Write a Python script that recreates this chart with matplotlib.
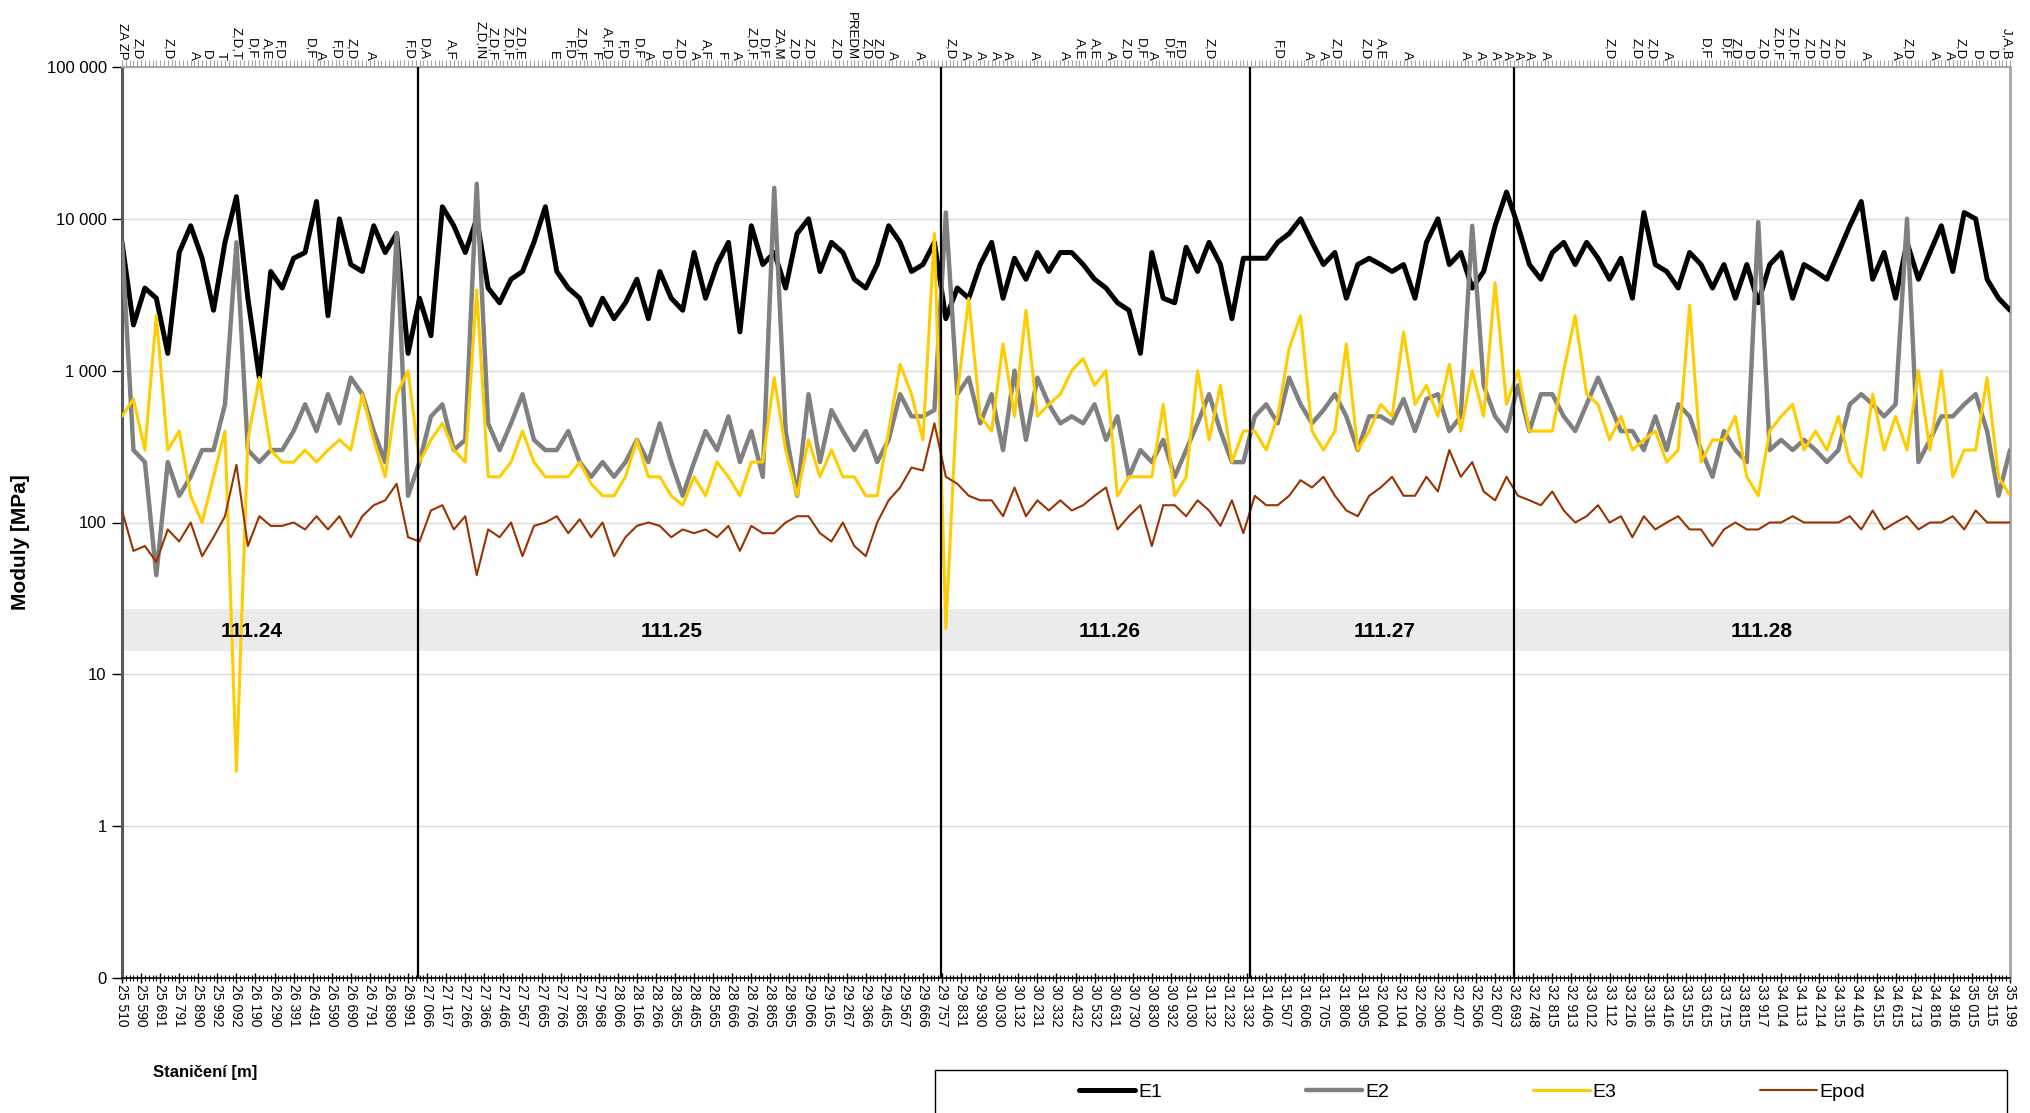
import numpy as np
import matplotlib
matplotlib.use('Agg')
import matplotlib.pyplot as plt
from matplotlib.patches import Rectangle
from matplotlib.ticker import NullLocator

plt.rcParams['font.family'] = ['Liberation Sans', 'DejaVu Sans']

# ---- data ----
n_cat = 496          # number of measured stations (categories)
step = 3             # a reading is given for every 3rd station

stations = ['25 510', '25 590', '25 691', '25 791', '25 890', '25 992', '26 092', '26 190', '26 290', '26 391',
            '26 491', '26 590', '26 690', '26 791', '26 890', '26 991', '27 066', '27 167', '27 266', '27 366',
            '27 466', '27 567', '27 665', '27 766', '27 865', '27 968', '28 066', '28 166', '28 266', '28 365',
            '28 465', '28 565', '28 666', '28 766', '28 865', '28 965', '29 066', '29 165', '29 267', '29 366',
            '29 465', '29 567', '29 666', '29 757', '29 831', '29 930', '30 030', '30 132', '30 231', '30 332',
            '30 432', '30 532', '30 631', '30 730', '30 830', '30 932', '31 030', '31 132', '31 232', '31 332',
            '31 406', '31 507', '31 606', '31 705', '31 806', '31 905', '32 004', '32 104', '32 206', '32 306',
            '32 407', '32 506', '32 607', '32 693', '32 748', '32 815', '32 913', '33 012', '33 112', '33 216',
            '33 316', '33 416', '33 515', '33 615', '33 715', '33 815', '33 917', '34 014', '34 113', '34 214',
            '34 315', '34 416', '34 515', '34 615', '34 713', '34 816', '34 916', '35 015', '35 115', '35 199']

e1 = [7000, 2000, 3500, 3000, 1300, 6000, 9000, 5500, 2500, 7000,
      14000, 3000, 900, 4500, 3500, 5500, 6000, 13000, 2300, 10000,
      5000, 4500, 9000, 6000, 8000, 1300, 3000, 1700, 12000, 9000,
      6000, 10000, 3500, 2800, 4000, 4500, 7000, 12000, 4500, 3500,
      3000, 2000, 3000, 2200, 2800, 4000, 2200, 4500, 3000, 2500,
      6000, 3000, 5000, 7000, 1800, 9000, 5000, 6000, 3500, 8000,
      10000, 4500, 7000, 6000, 4000, 3500, 5000, 9000, 7000, 4500,
      5000, 7000, 2200, 3500, 3000, 5000, 7000, 3000, 5500, 4000,
      6000, 4500, 6000, 6000, 5000, 4000, 3500, 2800, 2500, 1300,
      6000, 3000, 2800, 6500, 4500, 7000, 5000, 2200, 5500, 5500,
      5500, 7000, 8000, 10000, 7000, 5000, 6000, 3000, 5000, 5500,
      5000, 4500, 5000, 3000, 7000, 10000, 5000, 6000, 3500, 4500,
      9000, 15000, 9000, 5000, 4000, 6000, 7000, 5000, 7000, 5500,
      4000, 5500, 3000, 11000, 5000, 4500, 3500, 6000, 5000, 3500,
      5000, 3000, 5000, 2800, 5000, 6000, 3000, 5000, 4500, 4000,
      6000, 9000, 13000, 4000, 6000, 3000, 7000, 4000, 6000, 9000,
      4500, 11000, 10000, 4000, 3000, 2500]

e2 = [7000, 300, 250, 45, 250, 150, 200, 300, 300, 600,
      7000, 300, 250, 300, 300, 400, 600, 400, 700, 450,
      900, 700, 400, 250, 8000, 150, 250, 500, 600, 300,
      350, 17000, 450, 300, 450, 700, 350, 300, 300, 400,
      250, 200, 250, 200, 250, 350, 250, 450, 250, 150,
      250, 400, 300, 500, 250, 400, 200, 16000, 400, 150,
      700, 250, 550, 400, 300, 400, 250, 350, 700, 500,
      500, 550, 11000, 700, 900, 450, 700, 300, 1000, 350,
      900, 600, 450, 500, 450, 600, 350, 500, 200, 300,
      250, 350, 200, 300, 450, 700, 400, 250, 250, 500,
      600, 450, 900, 600, 450, 550, 700, 500, 300, 500,
      500, 450, 650, 400, 650, 700, 400, 500, 9000, 800,
      500, 400, 800, 400, 700, 700, 500, 400, 600, 900,
      600, 400, 400, 300, 500, 300, 600, 500, 300, 200,
      400, 300, 250, 9500, 300, 350, 300, 350, 300, 250,
      300, 600, 700, 600, 500, 600, 10000, 250, 350, 500,
      500, 600, 700, 400, 150, 300]

e3 = [500, 650, 300, 2300, 300, 400, 150, 100, 200, 400,
      2.3, 350, 900, 300, 250, 250, 300, 250, 300, 350,
      300, 700, 350, 200, 700, 1000, 250, 350, 450, 300,
      250, 3400, 200, 200, 250, 400, 250, 200, 200, 200,
      250, 180, 150, 150, 200, 350, 200, 200, 150, 130,
      200, 150, 250, 200, 150, 250, 250, 900, 300, 150,
      350, 200, 300, 200, 200, 150, 150, 400, 1100, 700,
      350, 8000, 20, 700, 3000, 500, 400, 1500, 500, 2500,
      500, 600, 700, 1000, 1200, 800, 1000, 150, 200, 200,
      200, 600, 150, 200, 1000, 350, 800, 250, 400, 400,
      300, 500, 1400, 2300, 400, 300, 400, 1500, 300, 400,
      600, 500, 1800, 600, 800, 500, 1100, 400, 1000, 500,
      3800, 600, 1000, 400, 400, 400, 1000, 2300, 700, 600,
      350, 500, 300, 350, 400, 250, 300, 2700, 250, 350,
      350, 500, 200, 150, 400, 500, 600, 300, 400, 300,
      500, 250, 200, 700, 300, 500, 300, 1000, 300, 1000,
      200, 300, 300, 900, 200, 150]

epod = [120, 65, 70, 55, 90, 75, 100, 60, 80, 110,
        240, 70, 110, 95, 95, 100, 90, 110, 90, 110,
        80, 110, 130, 140, 180, 80, 75, 120, 130, 90,
        110, 45, 90, 80, 100, 60, 95, 100, 110, 85,
        105, 80, 100, 60, 80, 95, 100, 95, 80, 90,
        85, 90, 80, 95, 65, 95, 85, 85, 100, 110,
        110, 85, 75, 100, 70, 60, 100, 140, 170, 230,
        220, 450, 200, 180, 150, 140, 140, 110, 170, 110,
        140, 120, 140, 120, 130, 150, 170, 90, 110, 130,
        70, 130, 130, 110, 140, 120, 95, 140, 85, 150,
        130, 130, 150, 190, 170, 200, 150, 120, 110, 150,
        170, 200, 150, 150, 200, 160, 300, 200, 250, 160,
        140, 200, 150, 140, 130, 160, 120, 100, 110, 130,
        100, 110, 80, 110, 90, 100, 110, 90, 90, 70,
        90, 100, 90, 90, 100, 100, 110, 100, 100, 100,
        100, 110, 90, 120, 90, 100, 110, 90, 100, 100,
        110, 90, 120, 100, 100, 100]

y_ticks = [0.1, 1, 10, 100, 1000, 10000, 100000]
y_tick_labels = ['0', '1', '10', '100', '1 000', '10 000', '100 000']

# road sections: boundaries (station index), names, label position
section_bounds = [77.6, 214.8, 295.8, 364.9]
section_names = ['111.24', '111.25', '111.26', '111.27', '111.28']
section_label_at = [34, 144, 259, 331, 430]
band_low, band_high, band_text = 14.3, 26.8, 19.2

# notes on the top axis (station index, text)
top_notes = [(0, 'ZA ZP'), (4, 'Z,D'), (12, 'Z,D'), (19, 'A'), (22, 'D'), (26, 'T'), (30, 'Z,D,T'),
             (34, 'D,F'), (38, 'A,E'), (41, 'F,D'), (49, 'D,F'), (52, 'A'), (56, 'F,D'), (60, 'Z,D'),
             (65, 'A'), (75, 'F,D'), (79, 'D,A'), (86, 'A,F'), (94, 'Z,D,IN'), (97, 'Z,D,F'),
             (101, 'Z,D,F'), (104, 'Z,D,E'), (113, 'E'), (117, 'F,D'), (120, 'Z,D,F'), (124, 'F'),
             (127, 'A,F,D'), (131, 'F,D'), (135, 'D,F'), (138, 'A'), (142, 'D'), (146, 'Z,D'),
             (150, 'A'), (153, 'A,F'), (157, 'F'), (161, 'A'), (165, 'Z,D,F'), (168, 'D,F'),
             (172, 'ZA,M'), (176, 'Z,D'), (180, 'Z,D'), (187, 'Z,D'), (191, 'PREDM'), (195, 'Z,D'),
             (198, 'Z,D'), (202, 'A'), (209, 'A'), (217, 'Z,D'), (221, 'A'), (225, 'A'), (229, 'A'),
             (232, 'A'), (239, 'A'), (247, 'A'), (251, 'A,E'), (255, 'A,E'), (259, 'A'), (263, 'Z,D'),
             (267, 'D,F'), (270, 'A'), (274, 'D,F'), (277, 'F,D'), (285, 'Z,D'), (303, 'F,D'),
             (311, 'A'), (315, 'A'), (318, 'Z,D'), (326, 'Z,D'), (330, 'A,E'), (337, 'A'), (352, 'A'),
             (356, 'A'), (360, 'A'), (363, 'A'), (366, 'A'), (369, 'A'), (373, 'A'), (390, 'Z,D'),
             (397, 'Z,D'), (401, 'Z,D'), (405, 'A'), (415, 'D,F'), (420, 'D,F'), (423, 'Z,D'),
             (426, 'D'), (430, 'Z,D'), (434, 'Z,D,F'), (438, 'Z,D,F'), (442, 'Z,D'), (446, 'Z,D'),
             (450, 'Z,D'), (457, 'A'), (465, 'A'), (468, 'Z,D'), (475, 'A'), (479, 'A'), (482, 'Z,D'),
             (486, 'D'), (490, 'D'), (494, 'J,A,B')]

# ---- figure ----
W, H, DPI = 2031, 1113, 100
fig = plt.figure(figsize=(W / DPI, H / DPI), dpi=DPI)
ax = fig.add_axes([122 / W, 1 - 978 / H, (2010 - 122) / W, (978 - 67) / H])

x = np.arange(0, n_cat, step)
series = [('E1', e1, 'black', 3.6), ('E2', e2, '#808080', 3.2),
          ('E3', e3, '#FFCC00', 2.2), ('Epod', epod, '#993300', 1.5)]
handles = []
for name, vals, col, lw in series:
    h, = ax.plot(x, vals, color=col, lw=lw, solid_joinstyle='round',
                 solid_capstyle='round', label=name, zorder=3)
    handles.append(h)

ax.set_yscale('log')
ax.set_ylim(0.1, 100000)
ax.set_xlim(0, n_cat - 1)

# grey band with section names
ax.axhspan(band_low, band_high, color='#EBEBEB', lw=0, zorder=1)
for pos, name in zip(section_label_at, section_names):
    ax.text(pos, band_text, name, ha='center', va='center', fontsize=15,
            fontweight='bold', zorder=4)
for b in section_bounds:
    ax.axvline(b, color='black', lw=1.6, zorder=5)

# axes styling
ax.set_yticks(y_ticks)
ax.set_yticklabels(y_tick_labels)
ax.yaxis.set_minor_locator(NullLocator())
ax.yaxis.grid(True, color='#D9D9D9', lw=1)
ax.set_axisbelow(True)
ax.tick_params(axis='y', direction='out', length=7, width=1, labelsize=12, pad=4)

ax.set_xticks(np.arange(0, n_cat, 5))
ax.set_xticklabels(stations, rotation=-90)
ax.set_xticks(np.arange(n_cat), minor=True)
ax.tick_params(axis='x', which='major', direction='inout', length=7, width=1,
               labelsize=10, pad=1)
ax.tick_params(axis='x', which='minor', direction='inout', length=5, width=0.8)

ax.spines['left'].set_color('#595959')
ax.spines['left'].set_linewidth(2.2)
ax.spines['bottom'].set_linewidth(1.2)
ax.spines['top'].set_color('#A6A6A6')
ax.spines['top'].set_linewidth(1.5)
ax.spines['right'].set_color('#A6A6A6')
ax.spines['right'].set_linewidth(2)

# top axis: station ticks + notes
ax2 = ax.twiny()
ax2.set_xlim(ax.get_xlim())
ax2.set_xticks(np.arange(n_cat))
ax2.tick_params(axis='x', direction='out', length=5, width=0.8, color='#A6A6A6',
                labeltop=False)
for s in ax2.spines.values():
    s.set_visible(False)
for pos, txt in top_notes:
    ax.text(pos, 1.008, txt, transform=ax.get_xaxis_transform(), rotation=-90,
            ha='center', va='bottom', fontsize=9.5, clip_on=False)

# axis titles
fig.text(21 / W, 1 - 542 / H, 'Moduly [MPa]', rotation=90, ha='center', va='center',
         fontsize=15, fontweight='bold')
fig.text(153 / W, 1 - 1072 / H, 'Staničení [m]', ha='left', va='center',
         fontsize=12, fontweight='bold')

# legend with its own frame (box runs off the bottom edge)
fig.patches.append(Rectangle((935 / W, -0.01), (2007 - 935) / W, 0.01 + (1113 - 1070) / H,
                             transform=fig.transFigure, fill=False, edgecolor='black', lw=1))
fig.legend(handles=handles, loc='center left', bbox_to_anchor=(1079 / W, 1 - 1092 / H),
           ncol=4, frameon=False, fontsize=14, handlelength=2.9, handletextpad=0.15,
           columnspacing=7.4, borderpad=0, borderaxespad=0)

fig.savefig('out.png', dpi=DPI)
